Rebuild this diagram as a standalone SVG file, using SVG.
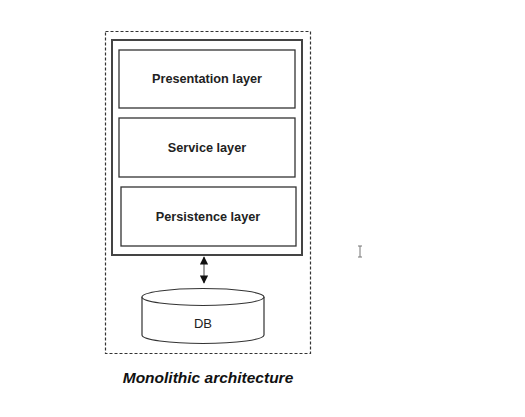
<svg xmlns="http://www.w3.org/2000/svg" width="525" height="417" viewBox="0 0 525 417">
<defs>
<style>
.box{fill:#fff;stroke:#333;stroke-width:1.3}
.lbl{font-family:"Liberation Sans",Arial,sans-serif;font-size:12.7px;font-weight:bold;fill:#222;text-anchor:middle}
.cap{font-family:"Liberation Sans",Arial,sans-serif;font-size:15.5px;font-weight:bold;font-style:italic;fill:#111;text-anchor:middle}
</style>
<marker id="ah" viewBox="0 0 10 10" refX="9" refY="5" markerWidth="7" markerHeight="7" orient="auto-start-reverse">
<path d="M0,0 L10,5 L0,10 z" fill="#111"/>
</marker>
</defs>
<rect width="525" height="417" fill="#fff"/>
<g id="boundary">
<rect x="105.5" y="31.5" width="205" height="322" fill="none" stroke="#333" stroke-width="1.2" stroke-dasharray="3,2"/>
</g>
<g id="app">
<rect x="112" y="40" width="190" height="215" fill="#fff" stroke="#444" stroke-width="2"/>
</g>
<g id="presentation">
<rect class="box" x="119" y="50" width="176" height="58"/>
<text class="lbl" x="207" y="83">Presentation layer</text>
</g>
<g id="service">
<rect class="box" x="119" y="118" width="176" height="59"/>
<text class="lbl" x="207" y="152">Service layer</text>
</g>
<g id="persistence">
<rect class="box" x="121" y="187" width="175" height="59"/>
<text class="lbl" x="208" y="221">Persistence layer</text>
</g>
<g id="db">
<path d="M142,297 L142,335 A61,8.5 0 0 0 264,335 L264,297" fill="#fff" stroke="#333" stroke-width="1.2"/>
<ellipse cx="203" cy="297" rx="61" ry="8.5" fill="#fff" stroke="#333" stroke-width="1.2"/>
<text class="lbl" x="203" y="328" style="font-weight:normal;font-size:13px">DB</text>
</g>
<g id="connectors">
<line x1="204" y1="257" x2="204" y2="283" stroke="#666" stroke-width="1.2" marker-start="url(#ah)" marker-end="url(#ah)"/>
</g>
<text class="cap" x="208" y="383">Monolithic architecture</text>
<path d="M358,246 h4 M360,246 v11 M358,257 h4" fill="none" stroke="#777" stroke-width="1"/>
</svg>
